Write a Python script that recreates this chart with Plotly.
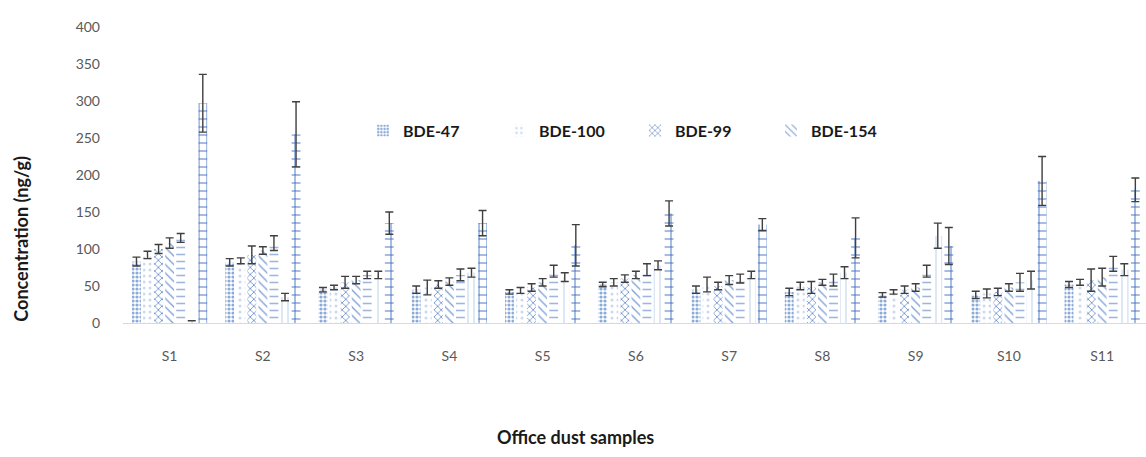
import plotly.graph_objects as go

samples = ["S1", "S2", "S3", "S4", "S5", "S6", "S7", "S8", "S9", "S10", "S11"]

bde47 = [83, 82, 45, 45, 42, 52, 45, 42, 38, 38, 52]
bde47_err = [6, 5, 3, 5, 3, 3, 5, 5, 3, 5, 4]
bde100 = [92, 84, 48, 48, 44, 55, 52, 50, 42, 40, 55]
bde100_err = [5, 4, 3, 10, 4, 5, 10, 5, 3, 6, 4]
bde99 = [100, 92, 55, 52, 48, 60, 50, 48, 45, 42, 58]
bde99_err = [6, 12, 8, 5, 5, 5, 5, 8, 5, 5, 15]
bde154 = [108, 98, 58, 56, 55, 65, 58, 55, 48, 48, 62]
bde154_err = [7, 5, 5, 5, 5, 5, 6, 4, 5, 5, 12]
bde153 = [115, 108, 65, 65, 70, 72, 60, 58, 70, 55, 80]
bde153_err = [6, 10, 5, 8, 8, 8, 6, 8, 8, 12, 10]
bde183 = [3, 35, 65, 68, 62, 78, 65, 68, 118, 58, 72]
bde183_err = [0, 5, 5, 6, 6, 6, 5, 8, 17, 12, 8]
bde209 = [297, 255, 135, 135, 105, 148, 133, 115, 104, 192, 180]
bde209_err = [39, 44, 15, 17, 28, 17, 8, 27, 25, 33, 16]

series = [
    ("BDE-47", bde47, bde47_err, dict(shape=".", fgcolor="#8aaad8", size=4, solidity=0.5), True),
    ("BDE-100", bde100, bde100_err, dict(shape=".", fgcolor="#cbd9ee", size=6, solidity=0.2), True),
    ("BDE-99", bde99, bde99_err, dict(shape="x", fgcolor="#6b8fcc", size=5, solidity=0.3), True),
    ("BDE-154", bde154, bde154_err, dict(shape="\\", fgcolor="#7d9fd4", size=6, solidity=0.22), True),
    ("BDE-153", bde153, bde153_err, dict(shape="-", fgcolor="#9db6df", size=7, solidity=0.22), False),
    ("BDE-183", bde183, bde183_err, dict(shape="|", fgcolor="#c3d3ec", size=6, solidity=0.18), False),
    ("BDE-209", bde209, bde209_err, dict(shape="+", fgcolor="#3f6fc0", size=8, solidity=0.22), False),
]

fig = go.Figure()
for name, vals, errs, pat, show in series:
    fig.add_trace(go.Bar(
        x=samples, y=vals, name=name, showlegend=show,
        marker=dict(color="white", line=dict(width=0),
                    pattern=dict(bgcolor="white", fillmode="replace", **pat)),
        error_y=dict(type="data", array=errs, visible=True,
                     color="#3f3f3f", thickness=1.4, width=4),
    ))

FONT = "Lato"
fig.update_layout(
    width=1146, height=457,
    margin=dict(l=123, r=0, t=27, b=134),
    paper_bgcolor="white", plot_bgcolor="white",
    barmode="group", bargap=0.17, bargroupgap=0.2,
    font=dict(family=FONT, color="#595959", size=14),
    legend=dict(orientation="h", x=0.2346, y=0.65, xanchor="left", yanchor="middle",
                font=dict(family=FONT, size=16, color="#1a1a1a", weight="bold"),
                entrywidth=91, bgcolor="rgba(0,0,0,0)"),
    xaxis=dict(range=[-0.5, 10.47], showline=True, linecolor="#d9d9d9", linewidth=1,
               ticks="", showgrid=False, tickfont=dict(size=14, color="#595959"),
               ticklabelstandoff=20),
    yaxis=dict(range=[0, 400], dtick=50, showgrid=False, zeroline=False, showline=False,
               ticks="", tickfont=dict(size=14, color="#595959"), ticklabelstandoff=22),
    annotations=[
        dict(text="<b>Concentration (ng/g)</b>", xref="paper", yref="paper",
             x=-0.1, y=0.284, xanchor="center", yanchor="middle", textangle=-90,
             showarrow=False, font=dict(family=FONT, size=18, color="#1a1a1a")),
        dict(text="<b>Office dust samples</b>", xref="paper", yref="paper",
             x=0.442, y=-0.385, xanchor="center", yanchor="middle",
             showarrow=False, font=dict(family=FONT, size=18, color="#1a1a1a")),
    ],
)

fig.write_html("out.html")
